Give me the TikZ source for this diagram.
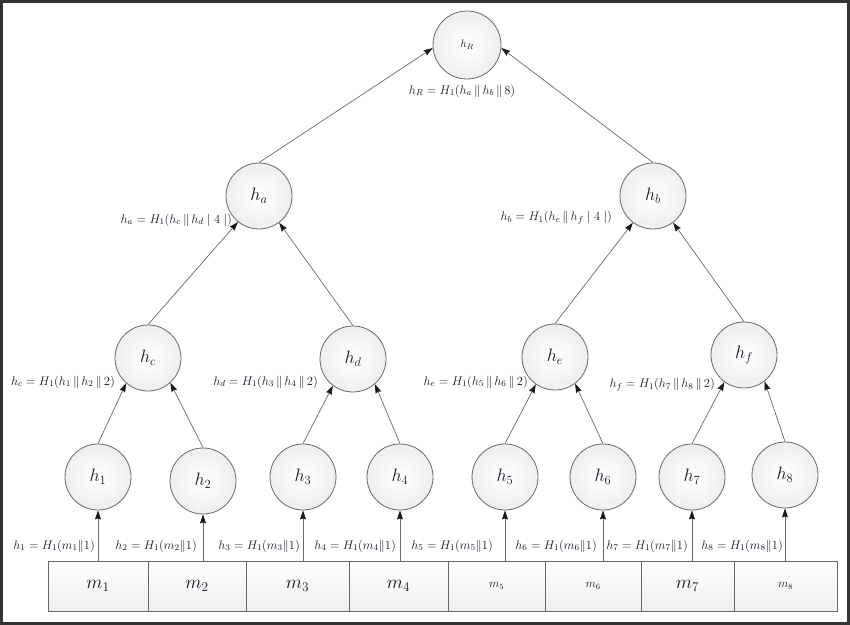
\documentclass[tikz,border=0pt]{standalone}
\usepackage{fix-cm}
\usetikzlibrary{arrows.meta}
\definecolor{txt}{RGB}{22,22,40}
\definecolor{edge}{RGB}{105,105,105}
\begin{document}
\begin{tikzpicture}[x=1bp,y=-1bp,
  hnode/.style={circle,draw=edge,line width=0.8bp,minimum size=66bp,inner sep=0pt,
    inner color=white,outer color=gray!13,text=txt,font=\fontsize{18}{20}\selectfont},
  mbox/.style={rectangle,draw=edge,line width=0.8bp,minimum height=50bp,inner sep=0pt,
    top color=white,bottom color=gray!13,text=txt},
  bigm/.style={font=\fontsize{19}{22}\selectfont},
  smallm/.style={font=\fontsize{12}{14}\selectfont},
  arr/.style={draw=edge,line width=0.7bp,-{Stealth[length=9bp,width=6bp,inset=1bp,color=black!90]}},
  fml/.style={text=txt,font=\fontsize{12.5}{14}\selectfont,inner sep=0pt},
]
\useasboundingbox (0,0) rectangle (850,625);
\draw[line width=2.5bp,color=black!80] (1.5,1.5) rectangle (848.5,623.5);

% tree nodes
\node[hnode,minimum size=68bp,font=\fontsize{11}{13}\selectfont] (hR) at (467,45) {$h_R$};
\node[hnode] (ha) at (259,196) {$h_a$};
\node[hnode] (hb) at (653,196) {$h_b$};
\node[hnode] (hc) at (148,358) {$h_c$};
\node[hnode] (hd) at (353,359) {$h_d$};
\node[hnode] (he) at (555,357) {$h_e$};
\node[hnode] (hf) at (744,355) {$h_f$};
\node[hnode] (h1) at (98,477) {$h_1$};
\node[hnode] (h2) at (203,481) {$h_2$};
\node[hnode] (h3) at (303,477) {$h_3$};
\node[hnode] (h4) at (400,477) {$h_4$};
\node[hnode] (h5) at (505,477) {$h_5$};
\node[hnode] (h6) at (603,477) {$h_6$};
\node[hnode] (h7) at (692,477) {$h_7$};
\node[hnode] (h8) at (785,475) {$h_8$};

% message blocks
\node[mbox,bigm,minimum width=100bp] (m1) at (98,586) {$m_1$};
\node[mbox,bigm,minimum width=98bp] (m2) at (197,586) {$m_2$};
\node[mbox,bigm,minimum width=103bp] (m3) at (297.5,586) {$m_3$};
\node[mbox,bigm,minimum width=99bp] (m4) at (398.5,586) {$m_4$};
\node[mbox,smallm,minimum width=97bp] (m5) at (496.5,586) {$m_5$};
\node[mbox,smallm,minimum width=96bp] (m6) at (593,586) {$m_6$};
\node[mbox,bigm,minimum width=93bp] (m7) at (687.5,586) {$m_7$};
\node[mbox,smallm,minimum width=103bp] (m8) at (785.5,586) {$m_8$};

% formulas
\node[fml] (fR) at (462,91) {$h_R = H_1(h_a \,\|\, h_b \,\|\, 8)$};
\node[fml,anchor=east] (fa) at (232,220) {$h_a = H_1(h_c \,\|\, h_d \;|\; 4 \;|)$};
\node[fml,anchor=east] (fb) at (612,218) {$h_b = H_1(h_e \,\|\, h_f \;|\; 4 \;|)$};
\node[fml,anchor=east] (fc) at (115,382) {$h_c = H_1(h_1 \,\|\, h_2 \,\|\, 2)$};
\node[fml,anchor=east] (fd) at (318,382) {$h_d = H_1(h_3 \,\|\, h_4 \,\|\, 2)$};
\node[fml,anchor=east] (fe) at (528,382) {$h_e = H_1(h_5 \,\|\, h_6 \,\|\, 2)$};
\node[fml,anchor=east] (ff) at (715,385) {$h_f = H_1(h_7 \,\|\, h_8 \,\|\, 2)$};
\node[fml,anchor=east] (f1) at (95,546) {$h_1 = H_1(m_1 \| 1)$};
\node[fml,anchor=east] (f2) at (197,546) {$h_2 = H_1(m_2 \| 1)$};
\node[fml,anchor=east] (f3) at (300,546) {$h_3 = H_1(m_3 \| 1)$};
\node[fml,anchor=east] (f4) at (396,546) {$h_4 = H_1(m_4 \| 1)$};
\node[fml,anchor=east] (f5) at (493,546) {$h_5 = H_1(m_5 \| 1)$};
\node[fml,anchor=east] (f6) at (597,546) {$h_6 = H_1(m_6 \| 1)$};
\node[fml,anchor=east] (f7) at (688,546) {$h_7 = H_1(m_7 \| 1)$};
\node[fml,anchor=east] (f8) at (783,546) {$h_8 = H_1(m_8 \| 1)$};

% connectors
\draw[arr] (ha.north) -- (hR.185);
\draw[arr] (hb.north) -- (hR.355);
\draw[arr] (hc.north) -- (ha.231);
\draw[arr] (hd.north) -- (ha.307);
\draw[arr] (he.north) -- (hb.233);
\draw[arr] (hf.north) -- (hb.307);
\draw[arr] (h1.north) -- (hc.229);
\draw[arr] (h2.north) -- (hc.312);
\draw[arr] (h3.north) -- (hd.233);
\draw[arr] (h4.north) -- (hd.311);
\draw[arr] (h5.north) -- (he.235);
\draw[arr] (h6.north) -- (he.307);
\draw[arr] (h7.north) -- (hf.234);
\draw[arr] (h8.north) -- (hf.308);
\foreach \i in {1,...,8}{
  \draw[arr] (h\i |- m\i.north) -- (h\i.south);
}
\end{tikzpicture}
\end{document}
